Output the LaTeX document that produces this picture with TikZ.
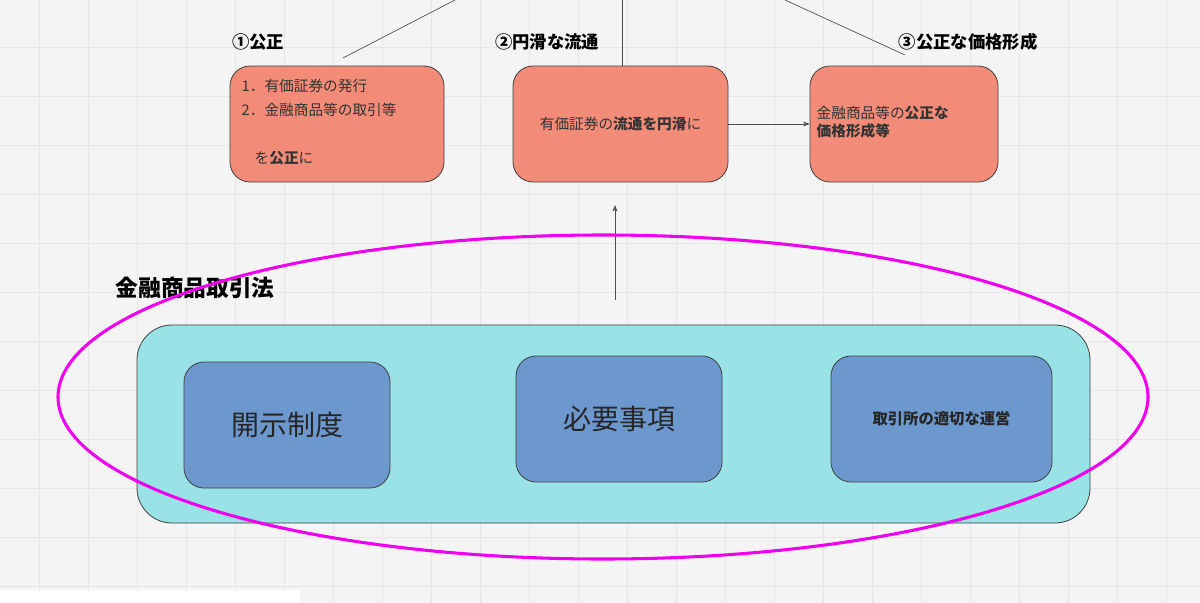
\documentclass[tikz,border=0pt]{standalone}
\usepackage{fontspec}
\setmainfont{Noto Sans CJK JP}
\newfontfamily\jpb{Noto Sans CJK JP Bold}
\usetikzlibrary{arrows.meta}
\definecolor{bg}{HTML}{F4F4F4}
\definecolor{gridc}{HTML}{E6E6E6}
\definecolor{salmon}{HTML}{F28C78}
\definecolor{cyanb}{HTML}{99E2E6}
\definecolor{blueb}{HTML}{6C98CE}
\definecolor{mag}{HTML}{F000F0}
\tikzset{
  redbox/.style={draw=black!75,fill=salmon,rounded corners=20*0.75pt,line width=0.6pt},
  bluebox/.style={draw=black!75,fill=blueb,rounded corners=20*0.75pt,line width=0.6pt},
  lbl/.style={font=\fontsize{13}{15}\selectfont\bfseries},
  txt/.style={font=\fontsize{11}{14}\selectfont,text=black!80},
  thin/.style={draw=black!70,line width=0.5pt}
}
\begin{document}
\begin{tikzpicture}[x=0.75pt,y=-0.75pt]
\useasboundingbox (0,0) rectangle (1200,603);
\fill[bg] (0,0) rectangle (1200,603);
\foreach \i in {0,...,25} \draw[gridc,line width=0.4pt] (\i*49-10,0) -- (\i*49-10,603);
\foreach \j in {0,...,13} \draw[gridc,line width=0.4pt] (0,\j*49-2) -- (1200,\j*49-2);
% top lines
\coordinate (t1) at (455,0); \coordinate (t1e) at (343,58);
\coordinate (t2) at (622,0); \coordinate (t2e) at (622,66);
\coordinate (t3) at (785,0); \coordinate (t3e) at (905,55);
\draw[thin] (t1) -- (t1e); \draw[thin] (t2) -- (t2e); \draw[thin] (t3) -- (t3e);
\node[lbl] (l1) at (258,42) {①公正};
\node[lbl] (l2) at (547,42) {②円滑な流通};
\node[lbl] (l3) at (968,42) {③公正な価格形成};
% red boxes
\draw[redbox] (230,66) rectangle (444,182);
\node[txt,anchor=west] (a1) at (237,86) {1．有価証券の発行};
\node[txt,anchor=west] (a2) at (237,110) {2．金融商品等の取引等};
\node[txt,anchor=west] (a3) at (250,158) {を\textbf{公正}に};
\node[redbox,minimum width=215*0.75pt,minimum height=116*0.75pt,txt] (b2) at (620.5,124) {有価証券の\textbf{流通を円滑}に};
\node[redbox,minimum width=188*0.75pt,minimum height=116*0.75pt] (b3) at (904,124) {};
\node[txt,anchor=west,align=left] (b3t) at (812,122) {金融商品等の\textbf{公正な}\\\textbf{価格形成等}};
\draw[thin,-{Stealth[length=5pt]}] (b2.east) -- (b3.west);
% arrow up
\coordinate (up0) at (615,300); \coordinate (up1) at (615,205);
\draw[thin,-{Stealth[length=5pt]}] (up0) -- (up1);
\node[font=\fontsize{17}{20}\selectfont\bfseries] (title) at (195,288) {金融商品取引法};
% cyan container
\draw[draw=black!75,fill=cyanb,rounded corners=35*0.75pt,line width=0.6pt] (137,325) rectangle (1090,523);
\node[bluebox,minimum width=206*0.75pt,minimum height=126*0.75pt,font=\fontsize{21}{24}\selectfont,text=black!85] (c1) at (287,425) {開示制度};
\node[bluebox,minimum width=206*0.75pt,minimum height=126*0.75pt,font=\fontsize{21}{24}\selectfont,text=black!85] (c2) at (619,419) {必要事項};
\node[bluebox,minimum width=221*0.75pt,minimum height=126*0.75pt,font=\fontsize{11.5}{14}\selectfont\bfseries,text=black!85] (c3) at (941.5,419) {取引所の適切な運営};
% magenta ellipse
\draw[mag,line width=2.3pt] (603,397) ellipse [x radius=545*0.75pt, y radius=162*0.75pt];
% bottom-left toolbar fragment
\fill[white] (0,590) rectangle (300,603);
\end{tikzpicture}
\end{document}
